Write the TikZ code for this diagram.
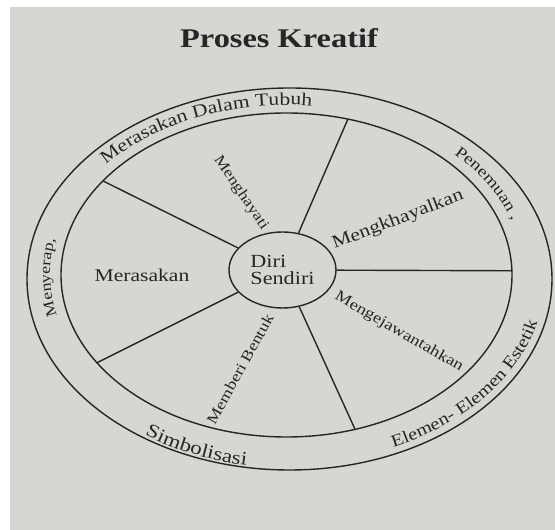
\documentclass[tikz,border=0pt]{standalone}
\usepackage{fontspec}
\setmainfont{Liberation Serif}[FakeStretch=1.2]
\usetikzlibrary{decorations.text,shapes.geometric}
\definecolor{paper}{RGB}{214,214,211}
\definecolor{ink}{RGB}{38,38,38}
\begin{document}
\begin{tikzpicture}[x=1pt,y=1pt,
  ln/.style={draw=ink, line width=1.4pt},
  lbl/.style={text=ink, inner sep=0pt},
  ringtext/.style={decorate, decoration={text along path, text align=center, text color=ink}},
]
\fill[paper] (0,0) rectangle (555,530);
\fill[white] (0,0) rectangle (10,530);
\fill[white] (0,523) rectangle (555,530);
\useasboundingbox (0,0) rectangle (555,530);

% title
\node[lbl, font=\bfseries\fontsize{27}{30}\selectfont] (title) at (279,492) {Proses Kreatif};

% rings
\draw[ln] (289.5,251) ellipse [x radius=262.5pt, y radius=191pt];
\draw[ln] (286.5,255) ellipse [x radius=225.5pt, y radius=162pt];

% centre
\node[ellipse, ln, minimum width=107pt, minimum height=76pt, inner sep=0pt,
      align=left, text=ink, font=\fontsize{18.5}{17}\selectfont] (self) at (282.5,260) {Diri\\Sendiri};

% spoke ends on the inner ring
\path[shift={(286.5,255)}]
  (144.5:225.5pt and 162pt) coordinate (e1)
  (74.2:225.5pt and 162pt) coordinate (e2)
  (1.5:225.5pt and 162pt) coordinate (e3)
  (-72.3:225.5pt and 162pt) coordinate (e4)
  (-147.2:225.5pt and 162pt) coordinate (e5);
\foreach \i in {1,...,5} \draw[ln] (self) -- (e\i);

% sector labels
\node[lbl, font=\fontsize{18}{20}\selectfont, anchor=base] (merasakan) at (142,248) {Merasakan};
\node[lbl, font=\fontsize{18}{20}\selectfont, rotate=21] (khayal) at (398,310) {Mengkhayalkan};
\node[lbl, font=\fontsize{15}{17}\selectfont, rotate=-56] (hayati) at (241,337) {Menghayati};
\node[lbl, font=\fontsize{15.5}{17}\selectfont, rotate=-30] (ejawantah) at (399,198) {Mengejawantahkan};
\node[lbl, font=\fontsize{15}{17}\selectfont, rotate=61] (bentuk) at (240,161) {Memberi Bentuk};

% ring labels (clockwise, outward)
\path[ringtext, decoration={text={|\fontsize{15}{17}\selectfont|Menyerap,}}, shift={(287,256)}]
  (212:237pt and 169pt) arc[start angle=212, end angle=150, x radius=237pt, y radius=169pt];
\path[ringtext, decoration={text={|\fontsize{18}{20}\selectfont|Merasakan Dalam Tubuh}}, shift={(287,256)}]
  (152:237pt and 169pt) arc[start angle=152, end angle=74, x radius=237pt, y radius=169pt];
\path[ringtext, decoration={text={|\fontsize{16}{18}\selectfont|Penemuan ,}}, shift={(287,256)}]
  (59:237pt and 169pt) arc[start angle=59, end angle=1, x radius=237pt, y radius=169pt];
% ring labels (counter-clockwise, inward)
\path[ringtext, decoration={text={|\fontsize{19}{21}\selectfont|Simbolisasi}}, shift={(289.5,251)}]
  (207:256pt and 189pt) arc[start angle=207, end angle=285, x radius=256pt, y radius=189pt];
\path[ringtext, decoration={text={|\fontsize{17}{19}\selectfont|Elemen- Elemen Estetik}}, shift={(289.5,251)}]
  (284:255pt and 184pt) arc[start angle=284, end angle=360, x radius=255pt, y radius=184pt];
\end{tikzpicture}
\end{document}
